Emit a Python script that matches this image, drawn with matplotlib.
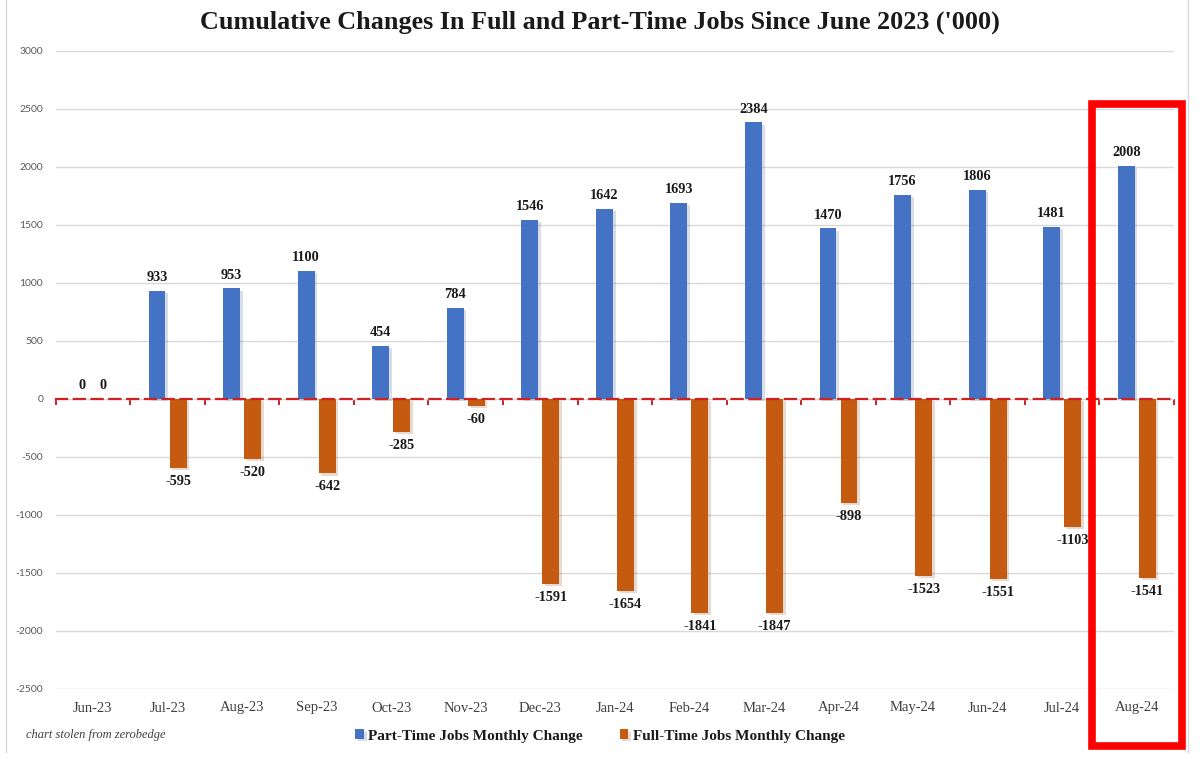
import matplotlib
matplotlib.use("Agg")
import matplotlib.pyplot as plt
import matplotlib.patheffects as pe
from matplotlib.patches import Rectangle
from matplotlib.lines import Line2D
import numpy as np

months = ["Jun-23", "Jul-23", "Aug-23", "Sep-23", "Oct-23", "Nov-23", "Dec-23",
          "Jan-24", "Feb-24", "Mar-24", "Apr-24", "May-24", "Jun-24", "Jul-24", "Aug-24"]
part_time = [0, 933, 953, 1100, 454, 784, 1546, 1642, 1693, 2384, 1470, 1756, 1806, 1481, 2008]
full_time = [0, -595, -520, -642, -285, -60, -1591, -1654, -1841, -1847, -898, -1523, -1551, -1103, -1541]
y_ticks = [-2500, -2000, -1500, -1000, -500, 0, 500, 1000, 1500, 2000, 2500, 3000]

title = "Cumulative Changes In Full and Part-Time Jobs Since June 2023 ('000)"
pt_label = "Part-Time Jobs Monthly Change"
ft_label = "Full-Time Jobs Monthly Change"

BLUE = "#4472C4"
ORANGE = "#C55A11"
SERIF = ["Liberation Serif", "DejaVu Serif"]

W, H = 1200, 759
fig = plt.figure(figsize=(W / 100, H / 100), dpi=100)
ax = fig.add_axes([55.7 / W, 1 - 689 / H, (1174 - 55.7) / W, (689 - 51) / H])

x = np.arange(len(months))
bw = 0.227
off = 0.141
shadow = [pe.SimplePatchShadow(offset=(2, -1.5), alpha=0.18, rho=0.6), pe.Normal()]
b1 = ax.bar(x - off, part_time, bw, color=BLUE, label=pt_label, zorder=3)
b2 = ax.bar(x + off, full_time, bw, color=ORANGE, label=ft_label, zorder=3)
for b in list(b1) + list(b2):
    b.set_path_effects(shadow)

lab_font = dict(family=SERIF, weight="bold", size=10.3, color="#1a1a1a")
ax.bar_label(b1, labels=[str(v) for v in part_time], padding=5, **lab_font)
ax.bar_label(b2, labels=[str(v) for v in full_time], padding=5, **lab_font)

ax.set_xlim(-0.5, len(months) - 0.5)
ax.set_ylim(-2500, 3000)
ax.set_yticks(y_ticks)
ax.set_yticklabels([str(v) for v in y_ticks], family=["Lato", "DejaVu Sans"], size=7.5, color="#595959")
ax.tick_params(axis="y", length=0, pad=9)
ax.yaxis.grid(True, color="#d9d9d9", lw=1, zorder=0)
ax.set_axisbelow(True)

for s in ["top", "right", "left"]:
    ax.spines[s].set_visible(False)
sp = ax.spines["bottom"]
sp.set_position(("data", 0))
sp.set_color("#D02020")
sp.set_linewidth(1.6)
sp.set_linestyle((0, (5, 3)))
sp.set_zorder(4)
ax.set_xticks(np.arange(-0.5, len(months), 1.0))
ax.set_xticklabels([])
ax.tick_params(axis="x", direction="out", length=4, width=1.4, color="#D02020")

sec = ax.secondary_xaxis(0)
sec.set_xticks(x)
sec.set_xticklabels(months, family=SERIF, size=10.5, color="#404040")
sec.tick_params(length=0, pad=9)
sec.spines["bottom"].set_visible(False)

fig.text(0.5, 1 - 22 / H, title, ha="center", va="center", family=SERIF,
         weight="bold", size=18.8, color="#1a1a1a")
fig.text(26 / W, 1 - 735 / H, "chart stolen from zerobedge", ha="left", va="center",
         family=SERIF, style="italic", size=9, color="#404040")

leg = fig.legend(handles=[b1, b2], loc="center", bbox_to_anchor=(0.5, 1 - 736 / H), ncol=2,
                 frameon=False, prop=dict(family=SERIF, weight="bold", size=11),
                 handlelength=0.55, handleheight=0.55, handletextpad=0.3, columnspacing=2.4)
for t in leg.get_texts():
    t.set_color("#1a1a1a")

# chart area border lines
fig.add_artist(Line2D([6 / W, 6 / W], [1 - 752 / H, 1], color="#d9d9d9", lw=1))
fig.add_artist(Line2D([1188 / W, 1188 / W], [1 - 752 / H, 1], color="#d9d9d9", lw=1))

# red highlight box
fig.add_artist(Rectangle((1092 / W, 1 - 746 / H), (1182 - 1092) / W, (746 - 104) / H,
                         transform=fig.transFigure, fill=False, edgecolor="#FF0000", lw=5.5))

fig.savefig("out.png", dpi=100, facecolor="white")
